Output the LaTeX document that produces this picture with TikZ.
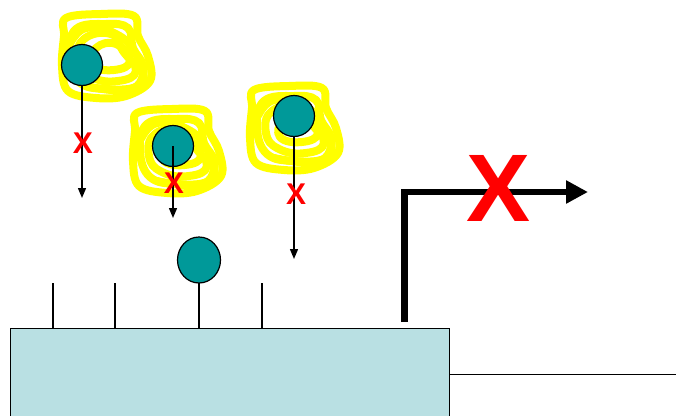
\documentclass[tikz,border=0pt]{standalone}
\usepackage{fontspec}
\setmainfont{Liberation Sans}
\usetikzlibrary{arrows.meta,shapes.geometric}
\definecolor{tealc}{HTML}{009999}
\definecolor{cellc}{HTML}{B9E0E3}
\definecolor{scrib}{HTML}{FFFF00}
\tikzset{
  ligand/.style={circle,draw=black,line width=1.2pt,fill=tealc,minimum size=41pt,inner sep=0pt},
  stalk/.style={draw=black,line width=1.4pt},
  fall/.style={draw=black,line width=1.4pt,-{Triangle[length=10pt,width=8pt]}},
  smallx/.style={text=red,font=\bfseries\fontsize{30}{30}\selectfont,inner sep=0pt},
  bigx/.style={text=red,font=\bfseries\fontsize{96}{96}\selectfont,inner sep=0pt},
  signal/.style={draw=black,line width=6.5pt,-{Triangle[length=22pt,width=22pt]}},
  scribble/.pic={
    \draw[scrib,line width=8pt,line join=round] plot[smooth cycle,tension=0.6] coordinates{(-40,-38) (-5,-42) (28,-40) (32,-20) (42,0) (44,25) (20,40) (-10,42) (-38,35) (-44,10) (-42,-20)};
    \draw[scrib,line width=8pt,line join=round] plot[smooth cycle,tension=0.7] coordinates{(-30,-27) (0,-32) (22,-28) (27,-8) (37,10) (32,30) (0,33) (-27,26) (-37,0)};
    \draw[scrib,line width=8pt,line join=round] plot[smooth cycle,tension=0.8] coordinates{(-22,-17) (5,-22) (17,-5) (30,15) (12,25) (-15,21) (-28,5)};
    \draw[scrib,line width=8pt,line join=round] plot[smooth cycle,tension=0.8] coordinates{(-10,-8) (10,-12) (24,5) (8,14) (-14,9)};
    \draw[scrib,line width=8pt,line join=round] plot[smooth,tension=0.8] coordinates{(-36,-12) (-20,-28) (10,-22) (30,-2) (36,22) (18,34) (-20,30)};
  }
}
\begin{document}
\begin{tikzpicture}[x=1pt,y=-1pt]
\useasboundingbox (0,0) rectangle (676,415);
\clip (0,0) rectangle (676,415);
% cell
\node[draw=black,line width=1pt,fill=cellc,minimum width=439pt,minimum height=92pt,anchor=north west,inner sep=0pt] (cell) at (10,328) {};
\coordinate (lineL) at (449,374);
\coordinate (lineR) at (680,374);
\draw[black,line width=1pt] (lineL) -- (lineR);
% receptors
\foreach \i/\x in {1/53,2/115,3/199,4/262}{
  \coordinate (rt\i) at (\x,283);
  \coordinate (rb\i) at (\x,328);
  \draw[stalk] (rt\i) -- (rb\i);
}
% bound ligand
\node[ligand,ellipse,minimum width=43pt,minimum height=46pt] (lb) at (199,260) {};
% yellow scribbles
\pic at (106,56) {scribble};
\pic at (177,151) {scribble};
\pic at (294,128) {scribble};
% free ligands
\node[ligand] (l1) at (82,65) {};
\node[ligand] (l2) at (173,146) {};
\node[ligand] (l3) at (294,116) {};
\coordinate (t1) at (82,198);
\coordinate (t2) at (173,218);
\coordinate (t3) at (294,259);
\draw[fall] (l1.south) -- (t1);
\draw[fall] (l2.center) -- (t2);
\draw[fall] (l3.south) -- (t3);
\node[smallx] (x1) at (83,143) {X};
\node[smallx] (x2) at (174,183) {X};
\node[smallx] (x3) at (296,194) {X};
% signal arrow
\coordinate (s0) at (404.5,322);
\coordinate (s1) at (404.5,192);
\coordinate (s2) at (588,192);
\draw[signal] (s0) -- (s1) -- (s2);
\node[bigx] (bx) at (499,188) {X};
\end{tikzpicture}
\end{document}
